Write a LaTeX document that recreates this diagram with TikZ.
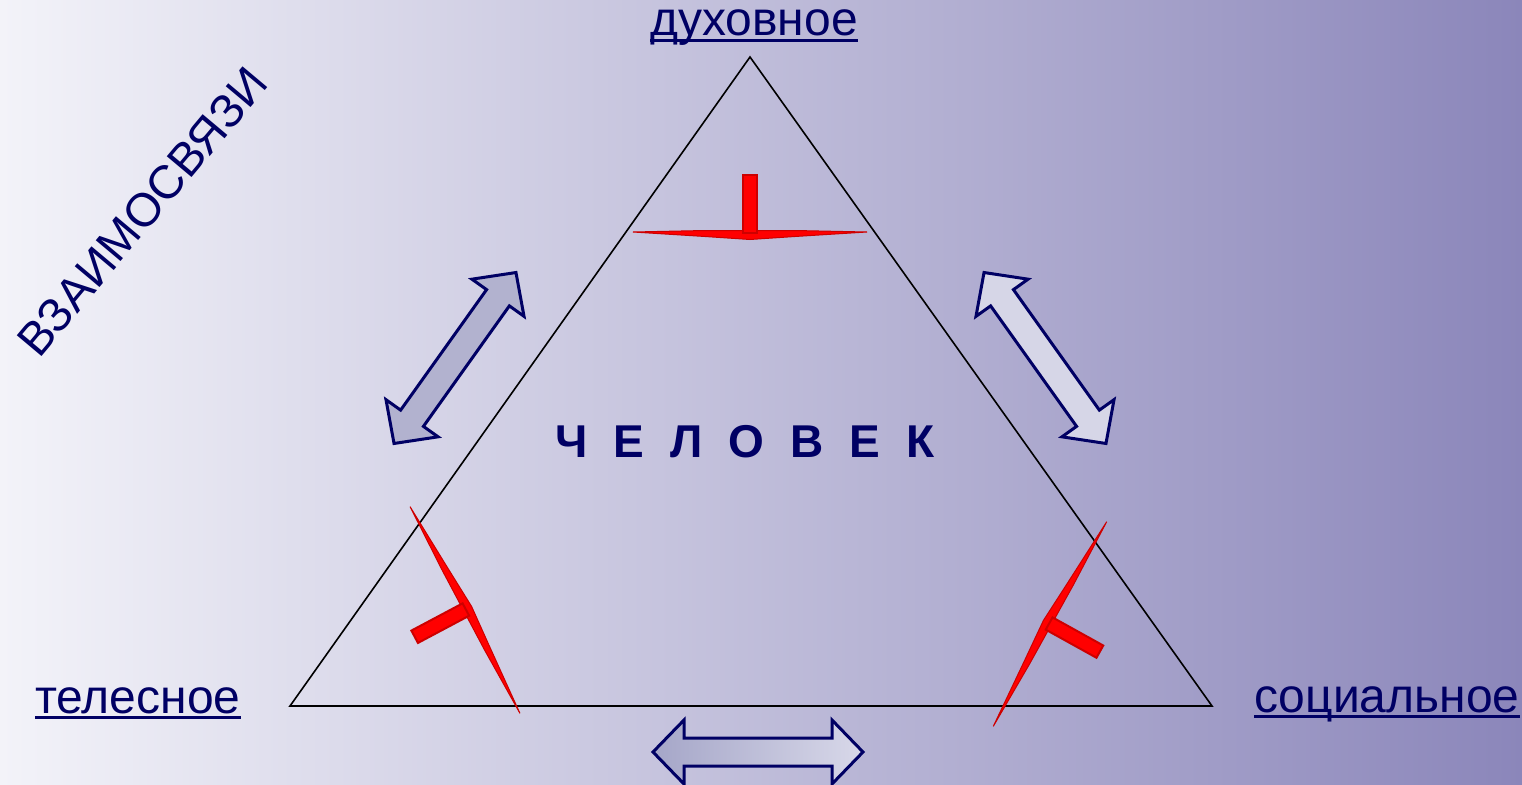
\documentclass[tikz,border=0pt]{standalone}
\usepackage{fontspec}
\setmainfont{Liberation Sans}
\definecolor{bgL}{RGB}{243,243,249}
\definecolor{bgR}{RGB}{139,134,186}
\definecolor{txtnavy}{RGB}{0,0,100}
\definecolor{tred}{RGB}{255,0,0}
\definecolor{tdark}{RGB}{205,0,0}
\definecolor{arrL}{RGB}{178,178,207}
\definecolor{arrR}{RGB}{214,214,231}
\definecolor{arrBL}{RGB}{165,166,200}
\definecolor{arrBR}{RGB}{216,216,233}
\newcommand\myul[1]{\setbox0=\hbox{#1}\rlap{\rule[-6pt]{\wd0}{3pt}}\box0}
\tikzset{
  lbl/.style={text=txtnavy, inner sep=0pt, font=\fontsize{48}{56}\selectfont},
  redT/.pic={
    \fill[tred, draw=tdark, line width=1] (-117,0) -- (-45,-1.5) -- (45,-1.5) -- (117,0) -- (45,4.5) -- (0,7.5) -- (-45,4.5) -- cycle;
    \filldraw[fill=tred, draw=tdark, line width=2] (-7,-57) rectangle (7,1);
  },
  dblarrow/.pic={
    \path[pic actions, draw=txtnavy, line width=3, line join=miter]
      (-105,0) -- (-74,-32) -- (-74,-14) -- (74,-14) -- (74,-32) -- (105,0)
      -- (74,32) -- (74,14) -- (-74,14) -- (-74,32) -- cycle;
  }
}
\begin{document}
\begin{tikzpicture}[x=1pt,y=-1pt]
\useasboundingbox (0,0) rectangle (1522,784);
\begin{scope}
\clip (0,0) rectangle (1522,784);
\fill[left color=bgL, right color=bgR] (0,0) rectangle (1522,784);

% triangle
\coordinate (top) at (750,57);
\coordinate (bl) at (290,706);
\coordinate (br) at (1212,706);
\draw[black, line width=1.6] (top) -- (bl) -- (br) -- cycle;

% red T shapes
\pic at (750,232) {redT};
\pic[rotate=118] at (465,610) {redT};
\pic[rotate=-119] at (1050,624) {redT};

% double arrows
\pic[fill=arrL, rotate=54.5] at (455,358) {dblarrow};
\pic[fill=arrR, rotate=-54.5] at (1045,358) {dblarrow};
\pic[left color=arrBL, right color=arrBR] at (758,752) {dblarrow};
\end{scope}

% labels
\node[lbl, anchor=base] (dux) at (754,36) {\myul{духовное}};
\node[lbl, anchor=base] (tel) at (138,713) {\myul{телесное}};
\node[lbl, anchor=base] (soc) at (1387,712) {\myul{социальное}};
\node[lbl, anchor=base, font=\fontsize{46}{55}\selectfont\bfseries] (chel) at (745,457)
  {Ч\hskip26pt Е\hskip26pt Л\hskip26pt О\hskip26pt В\hskip26pt Е\hskip26pt К};
\node[lbl, anchor=base, rotate=50, font=\fontsize{47}{56}\selectfont] (vz) at (155,222) {ВЗАИМОСВЯЗИ};
\end{tikzpicture}
\end{document}
